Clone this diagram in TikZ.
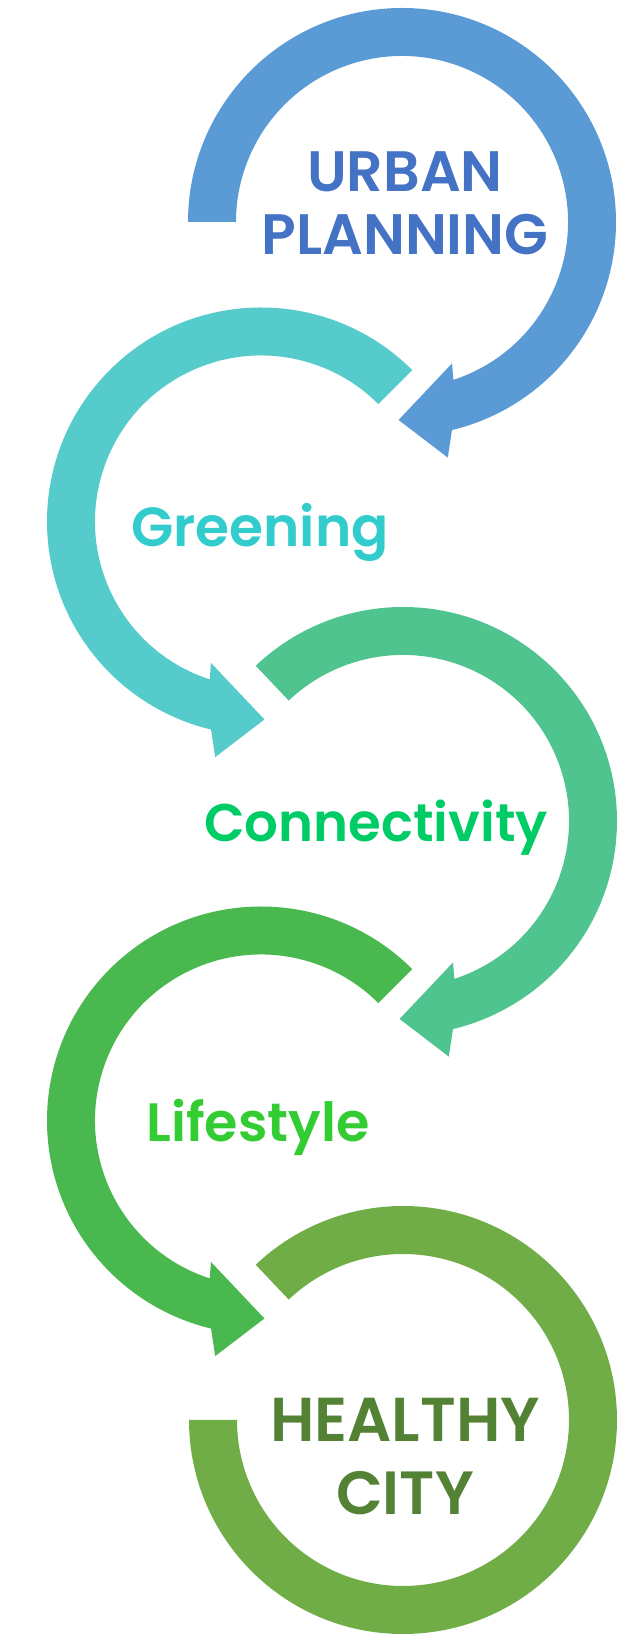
\documentclass[tikz,border=0pt]{standalone}
\usepackage{fontspec}
\setmainfont{Poppins}[BoldFont={Poppins SemiBold}]
\definecolor{ringblue}{HTML}{5B9BD5}
\definecolor{textblue}{HTML}{4472C4}
\definecolor{ringteal}{HTML}{56CBCB}
\definecolor{textteal}{HTML}{33CCCC}
\definecolor{ringmint}{HTML}{50C48E}
\definecolor{textmint}{HTML}{00CC66}
\definecolor{ringgreen}{HTML}{49B94F}
\definecolor{textgreen}{HTML}{33CC33}
\definecolor{ringolive}{HTML}{70AD47}
\definecolor{textolive}{HTML}{548235}
\begin{document}
\begin{tikzpicture}[x=1pt, y=1pt, line join=miter,
		ringtext/.style={font=\bfseries\fontsize{57}{60}\selectfont, inner sep=0pt, anchor=base}]
	%%%%%%%%%%%%%%%%%%%%%%%%%%%%%%%%%
	\useasboundingbox (0,0) rectangle (620,1636);
	\coordinate (U) at (402,1414);
	\coordinate (G) at (261,1114.5);
	\coordinate (C) at (403,815);
	\coordinate (L) at (261,515.5);
	\coordinate (H) at (403,216);
	%%%%%%%%%%%%%%%%%%%%%%%%%%%%%%%%%
	\begin{scope}[shift={(U)}]
		\fill[ringblue] (180:214) arc[start angle=180, end angle=-76.5, radius=214] -- (-79:240) -- (-91:198) -- (-70.5:150) -- (-72:166) arc[start angle=-72, end angle=180, radius=166] -- cycle;
	\end{scope}
	\begin{scope}[shift={(G)}]
		\fill[ringteal] (45:214) arc[start angle=45, end angle=256.5, radius=214] -- (259:240) -- (271:198) -- (250.5:150) -- (252:166) arc[start angle=252, end angle=45, radius=166] -- cycle;
	\end{scope}
	\begin{scope}[shift={(C)}]
		\fill[ringmint] (133.5:214) arc[start angle=133.5, end angle=-76.5, radius=214] -- (-79:240) -- (-91:198) -- (-70.5:150) -- (-72:166) arc[start angle=-72, end angle=133.5, radius=166] -- cycle;
	\end{scope}
	\begin{scope}[shift={(L)}]
		\fill[ringgreen] (45:214) arc[start angle=45, end angle=256.5, radius=214] -- (259:240) -- (271:198) -- (250.5:150) -- (252:166) arc[start angle=252, end angle=45, radius=166] -- cycle;
	\end{scope}
	\begin{scope}[shift={(H)}]
		\fill[ringolive] (180:214) arc[start angle=180, end angle=493.5, radius=214] -- (493.5:166) arc[start angle=493.5, end angle=180, radius=166] -- cycle;
	\end{scope}
	%%%%%%%%%%%%%%%%%%%%%%%%%%%%%%%%%
	\node[ringtext, textblue] (urban) at (405,1444) {URBAN};
	\node[ringtext, textblue] (planning) at (405,1381) {PLANNING};
	\node[ringtext, textteal, font=\bfseries\fontsize{55}{58}\selectfont] (greening) at (260,1089) {Greening};
	\node[ringtext, textmint, font=\bfseries\fontsize{53}{56}\selectfont] (connectivity) at (376,794) {Connectivity};
	\node[ringtext, textgreen, font=\bfseries\fontsize{54}{57}\selectfont] (lifestyle) at (258,494) {Lifestyle};
	\node[ringtext, textolive, font=\bfseries\fontsize{62}{64}\selectfont] (healthy) at (405,194) {HEALTHY};
	\node[ringtext, textolive, font=\bfseries\fontsize{61}{64}\selectfont] (city) at (405,121) {CITY};
	%%%%%%%%%%%%%%%%%%%%%%%%%%%%%%%%%
\end{tikzpicture}
\end{document}
